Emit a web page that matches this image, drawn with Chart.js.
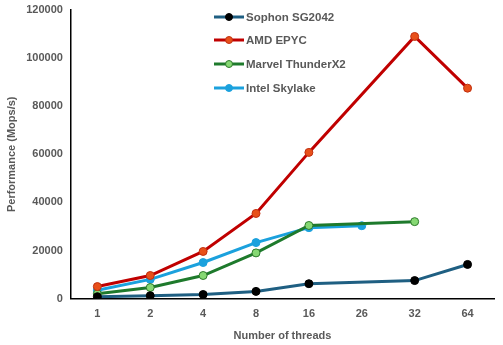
<!DOCTYPE html>
<html>
<head>
<meta charset="utf-8">
<script src="https://cdn.jsdelivr.net/npm/chart.js@4"></script>
<style>
  html, body { margin: 0; padding: 0; background: #fff; }
  #wrap { position: relative; width: 503px; height: 345px; }
  #legend { position: absolute; left: 214px; top: 5px; font: bold 11.5px "Liberation Sans", sans-serif; color: #595959; }
  #legend div { height: 23.6px; display: flex; align-items: center; }
  #legend canvas { margin-right: 2px; }
</style>
</head>
<body>
<div id="wrap">
  <canvas id="chart" width="503" height="345"></canvas>
  <div id="legend"></div>
</div>
<script>
const threads = ['1', '2', '4', '8', '16', '26', '32', '64'];
const sophon = [800, 1200, 1700, 3000, 6200, null, 7500, 14200];
const amd = [5000, 9600, 19600, 35400, 60800, null, 109000, 87500];
const marvel = [2000, 4600, 9600, 19000, 30400, null, 32000, null];
const intel = [3500, 8000, 15000, 23300, 29500, 30300, null, null];
const yTicks = [0, 20000, 40000, 60000, 80000, 100000, 120000];

const tickColor = '#595959';
const fontFamily = '"Liberation Sans", sans-serif';

function series(label, data, line, dot, dotBorder) {
    return {
        label, data,
        borderColor: line, borderWidth: 3,
        pointBackgroundColor: dot, pointBorderColor: dotBorder, pointBorderWidth: 1,
        pointRadius: 4, spanGaps: true, tension: 0
    };
}

const datasets = [
    series('Sophon SG2042', sophon, '#1F5F82', '#000000', '#000000'),
    series('AMD EPYC', amd, '#C00000', '#E8501A', '#C03010'),
    series('Marvel ThunderX2', marvel, '#1E7A2C', '#86D873', '#2E7A2C'),
    series('Intel Skylake', intel, '#1BA1DD', '#1BA1DD', '#1BA1DD')
];

const font = { family: fontFamily, size: 11, weight: 'bold' };

new Chart(document.getElementById('chart').getContext('2d'), {
    type: 'line',
    data: { labels: threads, datasets },
    options: {
        responsive: false, animation: false,
        layout: { padding: { top: 10, right: 9, left: 0, bottom: 2 } },
        plugins: { legend: { display: false }, tooltip: { enabled: false } },
        scales: {
            x: {
                offset: true,
                grid: { display: false, drawTicks: false },
                border: { color: '#000', width: 1.5 },
                ticks: { color: tickColor, font, padding: 9 },
                title: { display: true, text: 'Number of threads', color: tickColor, font, padding: { top: 0, bottom: 0 } }
            },
            y: {
                min: 0, max: 120000,
                afterBuildTicks: (axis) => { axis.ticks = yTicks.map(v => ({ value: v })); },
                afterFit: (axis) => { axis.paddingTop = 0; },
                grid: { display: false, drawTicks: false },
                border: { color: '#000', width: 1.5 },
                ticks: { color: tickColor, font, padding: 8, callback: (v) => String(v) },
                title: { display: true, text: 'Performance (Mops/s)', color: tickColor, font, padding: { top: 5, bottom: 0 } }
            }
        }
    }
});

// legend, one row per series
const legend = document.getElementById('legend');
datasets.forEach(ds => {
    const row = document.createElement('div');
    const c = document.createElement('canvas');
    c.width = 30; c.height = 10;
    const g = c.getContext('2d');
    g.strokeStyle = ds.borderColor; g.lineWidth = 3;
    g.beginPath(); g.moveTo(0, 5); g.lineTo(30, 5); g.stroke();
    g.fillStyle = ds.pointBackgroundColor; g.strokeStyle = ds.pointBorderColor; g.lineWidth = 1;
    g.beginPath(); g.arc(15, 5, 3.5, 0, Math.PI * 2); g.fill(); g.stroke();
    row.appendChild(c);
    row.appendChild(document.createTextNode(ds.label));
    legend.appendChild(row);
});
</script>
</body>
</html>
